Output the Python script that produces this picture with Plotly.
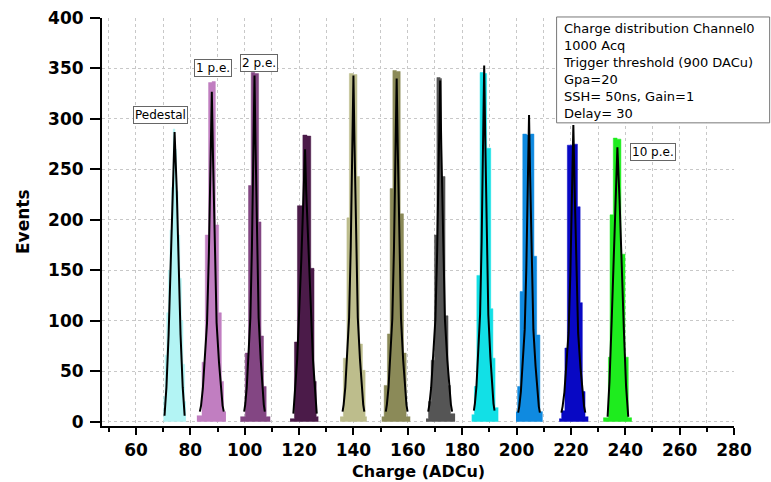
import plotly.graph_objects as go

# ---------------- data ----------------
# Histogram bin edges (ADCu) and counts per peak
ped_edges = [70.1, 70.7, 71.3, 71.9, 72.5, 73.1, 73.7, 74.3, 74.9, 75.5, 76.1, 76.7, 77.3, 77.9, 78.4]
ped_counts = [25, 66, 108, 150, 190, 232, 290, 270, 228, 185, 142, 100, 57, 20]

pe1_edges = [82.4, 84.3, 85.5, 86.7, 88.0, 89.2, 90.4, 91.4, 92.2, 93.1]
pe1_counts = [6, 59, 185, 336, 337, 195, 108, 40, 10]

pe2_edges = [98.4, 100.2, 101.4, 102.4, 103.7, 105.1, 106.0, 106.9, 107.9, 109.4]
pe2_counts = [5, 68, 234, 346, 345, 198, 85, 35, 5]

pe3_edges = [116.7, 118.3, 119.4, 121.4, 122.9, 124.3, 125.5, 126.3, 127.1]
pe3_counts = [3, 79, 214, 284, 283, 152, 40, 5]

pe4_edges = [135.1, 136.3, 137.6, 138.5, 139.9, 141.3, 142.2, 143.3, 144.3, 144.9]
pe4_counts = [5, 63, 202, 345, 344, 243, 77, 51, 5]

pe5_edges = [150.4, 151.3, 152.5, 153.5, 154.5, 155.8, 157.2, 158.4, 159.4, 160.9]
pe5_counts = [5, 36, 87, 231, 348, 347, 206, 68, 5]

pe6_edges = [166.7, 167.6, 168.6, 169.8, 170.7, 171.9, 172.4, 173.7, 174.8, 175.7, 177.4]
pe6_counts = [3, 20, 61, 185, 341, 340, 243, 105, 36, 8]

pe7_edges = [183.5, 184.5, 185.4, 186.6, 187.8, 189.0, 190.5, 191.3, 192.1, 193.3]
pe7_counts = [7, 35, 145, 346, 345, 271, 112, 63, 14]

pe8_edges = [199.8, 200.4, 201.3, 202.3, 203.7, 205.1, 206.4, 207.4, 208.6, 209.6]
pe8_counts = [10, 35, 129, 285, 284, 285, 164, 86, 10]

pe9_edges = [215.7, 216.6, 217.8, 218.7, 220.5, 222.4, 223.4, 224.2, 225.2, 226.4]
pe9_counts = [3, 11, 73, 274, 275, 213, 118, 30, 5]

pe10_edges = [231.9, 233.8, 234.4, 235.6, 237.0, 238.4, 239.9, 241.1, 242.4]
pe10_counts = [4, 64, 205, 281, 280, 166, 64, 4]

# Fitted curves (black lines)
ped_fit_x = [70.5, 71.2, 72.0, 72.6, 73.4, 74.2, 75.0, 75.8, 76.4, 77.2, 77.9]
ped_fit_y = [6, 34, 86, 144, 230, 287, 230, 144, 86, 34, 6]

pe1_fit_x = [83.5, 83.94, 84.6, 85.26, 86.14, 86.8, 87.46, 87.9, 88.34, 89.0, 89.66, 90.54, 91.2, 91.86, 92.3]
pe1_fit_y = [10, 16, 33, 59, 98, 164, 262, 327, 262, 164, 98, 59, 33, 16, 10]

pe2_fit_x = [99.8, 100.18, 100.75, 101.32, 102.08, 102.65, 103.22, 103.6, 103.98, 104.55, 105.12, 105.88, 106.45, 107.02, 107.4]
pe2_fit_y = [10, 17, 34, 62, 103, 172, 274, 343, 274, 172, 103, 62, 34, 17, 10]

pe3_fit_x = [117.9, 119.3, 120.8, 121.8, 122.2, 122.6, 123.6, 125.1, 126.5]
pe3_fit_y = [8, 62, 159, 230, 270, 230, 159, 62, 8]

pe4_fit_x = [136.0, 136.4, 137.0, 137.6, 138.4, 139.0, 139.6, 140.0, 140.4, 141.0, 141.6, 142.4, 143.0, 143.6, 144.0]
pe4_fit_y = [10, 17, 34, 62, 103, 172, 274, 343, 274, 172, 103, 62, 34, 17, 10]

pe5_fit_x = [151.9, 152.3, 152.9, 153.5, 154.3, 154.9, 155.5, 155.9, 156.3, 156.9, 157.5, 158.3, 158.9, 159.5, 159.9]
pe5_fit_y = [10, 17, 34, 61, 102, 170, 272, 340, 272, 170, 102, 61, 34, 17, 10]

pe6_fit_x = [167.5, 167.94, 168.6, 169.26, 170.14, 170.8, 171.46, 171.9, 172.34, 173.0, 173.66, 174.54, 175.2, 175.86, 176.3]
pe6_fit_y = [10, 17, 34, 61, 101, 169, 270, 338, 270, 169, 101, 61, 34, 17, 10]

pe7_fit_x = [184.3, 184.68, 185.25, 185.82, 186.58, 187.15, 187.72, 188.1, 188.48, 189.05, 189.62, 190.38, 190.95, 191.52, 191.9]
pe7_fit_y = [11, 18, 35, 64, 106, 177, 282, 353, 282, 177, 106, 64, 35, 18, 11]

pe8_fit_x = [200.6, 201.0, 201.6, 202.2, 203.0, 203.6, 204.2, 204.6, 205.0, 205.6, 206.2, 207.0, 207.6, 208.2, 208.6]
pe8_fit_y = [9, 15, 30, 55, 91, 152, 243, 304, 243, 152, 91, 55, 30, 15, 9]

pe9_fit_x = [216.5, 216.94, 217.6, 218.26, 219.14, 219.8, 220.46, 220.9, 221.34, 222.0, 222.66, 223.54, 224.2, 224.86, 225.3]
pe9_fit_y = [9, 15, 29, 53, 88, 147, 235, 294, 235, 147, 88, 53, 29, 15, 9]

pe10_fit_x = [233.5, 234.2, 235.0, 235.7, 236.4, 237.1, 237.9, 238.7, 239.5, 240.3, 241.1]
pe10_fit_y = [5, 40, 100, 160, 225, 272, 220, 150, 90, 35, 5]

peak_colors = ["#b3f4f4", "#c17ec1", "#834683", "#4b1b49", "#bdbd8c",
               "#8b8a58", "#555555", "#12e0e6", "#0f8ae0", "#0808c4", "#1eec1e"]

x_ticks = [60, 80, 100, 120, 140, 160, 180, 200, 220, 240, 260, 280]
y_ticks = [0, 50, 100, 150, 200, 250, 300, 350, 400]

x_title = "Charge (ADCu)"
y_title = "Events"

info_lines = ["Charge distribution Channel0", "1000 Acq", "Trigger threshold (900 DACu)",
              "Gpa=20", "SSH= 50ns, Gain=1", "Delay= 30"]

peak_labels = ["Pedestal", "1 p.e.", "2 p.e.", "10 p.e."]
peak_label_x = [69.1, 88.5, 105.2, 250.2]
peak_label_y = [304, 350, 355, 267]

# ---------------- figure ----------------
hists = [(ped_edges, ped_counts), (pe1_edges, pe1_counts), (pe2_edges, pe2_counts),
         (pe3_edges, pe3_counts), (pe4_edges, pe4_counts), (pe5_edges, pe5_counts),
         (pe6_edges, pe6_counts), (pe7_edges, pe7_counts), (pe8_edges, pe8_counts),
         (pe9_edges, pe9_counts), (pe10_edges, pe10_counts)]
fits = [(ped_fit_x, ped_fit_y), (pe1_fit_x, pe1_fit_y), (pe2_fit_x, pe2_fit_y),
        (pe3_fit_x, pe3_fit_y), (pe4_fit_x, pe4_fit_y), (pe5_fit_x, pe5_fit_y),
        (pe6_fit_x, pe6_fit_y), (pe7_fit_x, pe7_fit_y), (pe8_fit_x, pe8_fit_y),
        (pe9_fit_x, pe9_fit_y), (pe10_fit_x, pe10_fit_y)]

fig = go.Figure()
# histograms drawn as filled step outlines (bin edges -> counts)
for (edges, counts), col in zip(hists, peak_colors):
    sx = list(edges)
    sy = list(counts) + [counts[-1]]
    fig.add_trace(go.Scatter(x=sx, y=sy, mode="lines", line=dict(shape="hv", color=col, width=0.5),
                             fill="tozeroy", fillcolor=col, showlegend=False, hoverinfo="skip"))
for fx, fy in fits:
    fig.add_trace(go.Scatter(x=fx, y=fy, mode="lines", line=dict(color="black", width=2),
                             showlegend=False))

font_family = "DejaVu Sans"
fig.update_layout(
    width=771, height=482,
    margin=dict(l=102, r=37, t=18, b=56),
    paper_bgcolor="white", plot_bgcolor="white",
    font=dict(family=font_family, color="black"),
)
fig.update_xaxes(
    range=[47.5, 280], tickvals=x_ticks, showline=True, linecolor="black", linewidth=2,
    automargin=False,
    ticks="outside", ticklen=7, tickwidth=1.5, tickcolor="black",
    tickfont=dict(family=font_family, size=17, weight="bold"),
    ticklabelstandoff=1,
    showgrid=True, gridcolor="#c8c8c8", griddash="dot", gridwidth=1,
    minor=dict(dtick=10, tick0=0, ticks="outside", ticklen=3.5, tickcolor="black",
               showgrid=True, gridcolor="#c8c8c8", griddash="dot"),
    zeroline=False,
)
fig.update_yaxes(
    range=[-4.2, 400], tickvals=y_ticks, showline=True, linecolor="black", linewidth=2,
    automargin=False,
    ticks="outside", ticklen=10, tickwidth=1.5, tickcolor="black",
    tickfont=dict(family=font_family, size=17, weight="bold"),
    ticklabelstandoff=3,
    showgrid=True, gridcolor="#c8c8c8", griddash="dot", gridwidth=1,
    zeroline=False,
)

# axis titles as paper-anchored texts
fig.add_annotation(x=0.5, y=-0.1385, xref="paper", yref="paper", text=x_title,
                   showarrow=False, xanchor="center", yanchor="bottom",
                   font=dict(family=font_family, size=16, weight="bold", color="black"))
fig.add_annotation(x=-0.125, y=0.5, xref="paper", yref="paper", text=y_title,
                   showarrow=False, xanchor="center", yanchor="middle", textangle=-90,
                   font=dict(family=font_family, size=17, weight="bold", color="black"))

for txt, lx, ly in zip(peak_labels, peak_label_x, peak_label_y):
    fig.add_annotation(x=lx, y=ly, xref="x", yref="y", text=txt, showarrow=False,
                       font=dict(family=font_family, size=12, color="black"),
                       bgcolor="white", bordercolor="#666666", borderwidth=1, borderpad=1)

# info box (one multi-line text inside a framed box)
fig.add_shape(type="rect", xref="paper", yref="paper", x0=0.7193, x1=1.0564,
              y0=0.7430, y1=1.0025, line=dict(color="#777777", width=1),
              fillcolor="white", layer="above")
fig.add_annotation(x=0.7256, y=0.998, xref="paper", yref="paper",
                   text="<br>".join(info_lines), showarrow=False,
                   xanchor="left", yanchor="top", align="left",
                   font=dict(family=font_family, size=13, color="black"))

fig.write_html("out.html")
